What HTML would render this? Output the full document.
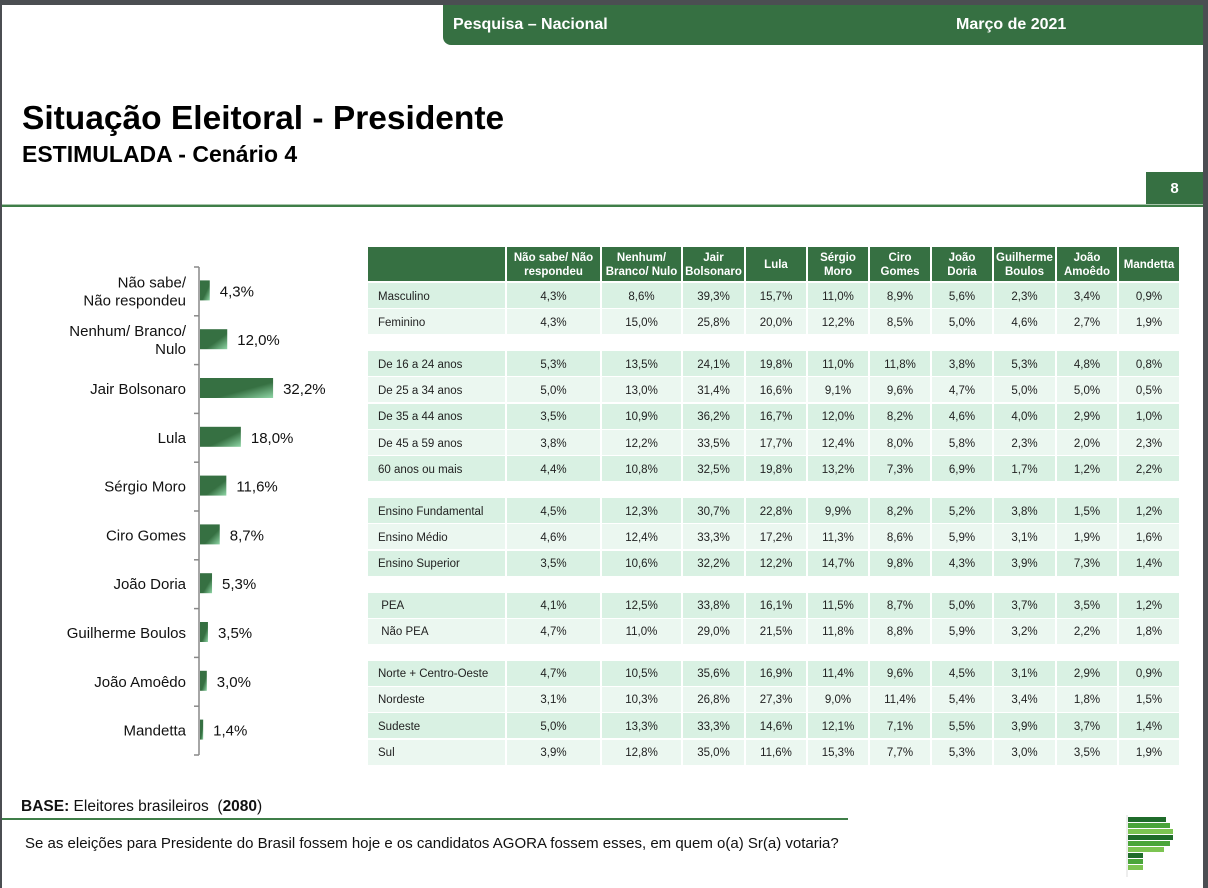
<!DOCTYPE html>
<html><head><meta charset="utf-8"><style>
body{margin:0;width:1208px;height:888px;overflow:hidden;background:#4b4e52;font-family:"Liberation Sans",sans-serif;}
#page{position:absolute;left:2px;top:5px;width:1201px;height:883px;background:#fff;overflow:hidden;}
.abs{position:absolute;}
#hdr{left:441px;top:0;width:760px;height:40px;background:#367042;border-bottom-left-radius:8px;color:#fff;font-weight:bold;font-size:16px;}
#tbl div{position:absolute;box-sizing:border-box;font-size:11.5px;color:#222;display:flex;align-items:center;justify-content:center;padding-top:2px;}
#tbl .h{background:#367042;color:#fff;font-weight:bold;text-align:center;line-height:14px;font-size:11.5px;}
</style></head><body>
<div id="page">
<div id="hdr" class="abs">
<span class="abs" style="left:10px;top:11px">Pesquisa – Nacional</span>
<span class="abs" style="left:513px;top:11px">Março de 2021</span>
</div>
<div class="abs" style="left:20px;top:95px;font-size:33.5px;font-weight:bold;color:#000">Situação Eleitoral - Presidente</div>
<div class="abs" style="left:20px;top:136px;font-size:23px;font-weight:bold;color:#000">ESTIMULADA - Cenário 4</div>
<div class="abs" style="left:1144px;top:167px;width:57px;height:33px;background:#367042;color:#fff;font-weight:bold;font-size:15px;text-align:center;line-height:33px">8</div>
<div class="abs" style="left:0;top:199px;width:1201px;height:1px;background:#a9c6ad"></div>
<div class="abs" style="left:0;top:200px;width:1201px;height:2px;background:#3f7e48"></div>
<svg id="chart" class="abs" style="left:0;top:0" width="370" height="780">
<defs><linearGradient id="g" x1="0" y1="0" x2="1" y2="1"><stop offset="0.6" stop-color="#367042"/><stop offset="1" stop-color="#8fd6a6"/></linearGradient></defs>
</svg>
<div id="tbl" class="abs" style="left:0;top:0"></div>
<div class="abs" style="left:19px;top:793px;font-size:15.5px;color:#111"><b>BASE:</b> Eleitores brasileiros &nbsp;(<b>2080</b>)</div>
<div class="abs" style="left:0;top:813px;width:846px;height:2px;background:#3f7e48"></div>
<div class="abs" style="left:23px;top:830px;font-size:15px;color:#111">Se as eleições para Presidente do Brasil fossem hoje e os candidatos AGORA fossem esses, em quem o(a) Sr(a) votaria?</div>
<svg class="abs" style="left:1120px;top:800px" width="60" height="80">
<line x1="5" y1="10" x2="5" y2="72" stroke="#ddd"/>
<rect x="6" y="12" width="38" height="5" fill="#1f6b2a"/><rect x="6" y="18" width="42" height="5" fill="#4aa53a"/>
<rect x="6" y="24" width="45" height="5" fill="#7cc452"/><rect x="6" y="30" width="45" height="5" fill="#1f6b2a"/>
<rect x="6" y="36" width="42" height="5" fill="#4aa53a"/><rect x="6" y="42" width="36" height="5" fill="#7cc452"/>
<rect x="6" y="48" width="15" height="5" fill="#1f6b2a"/><rect x="6" y="54" width="15" height="5" fill="#4aa53a"/><rect x="6" y="60" width="15" height="5" fill="#7cc452"/>
</svg>
</div>
<script>
const categories=["Não sabe/|Não respondeu","Nenhum/ Branco/|Nulo","Jair Bolsonaro","Lula","Sérgio Moro","Ciro Gomes","João Doria","Guilherme Boulos","João Amoêdo","Mandetta"];
const values=[4.3,12.0,32.2,18.0,11.6,8.7,5.3,3.5,3.0,1.4];
const NS="http://www.w3.org/2000/svg";
const svg=document.getElementById('chart');
const x0=197, pxPer=2.27, yTop=262, band=48.8, barH=20;
const xs=v=>pxPer*v, yc=i=>yTop+band*(i+0.5)-1;
function mk(t,a){const e=document.createElementNS(NS,t);for(const k in a)e.setAttribute(k,a[k]);svg.appendChild(e);return e;}
let ax=mk('line',{x1:x0,y1:yTop,x2:x0,y2:yTop+band*10,stroke:'#888','stroke-width':1.5});


for(let i=0;i<=10;i++){let t=mk('line',{x1:x0-5,x2:x0,y1:yTop+band*i,y2:yTop+band*i,stroke:'#888','stroke-width':1.5});

}
categories.forEach((c,i)=>{
 const r=mk('rect',{x:x0+1,y:yc(i)-barH/2,width:xs(values[i]),height:barH,fill:'url(#g)'});
 
 
 const v=mk('text',{x:x0+1+xs(values[i])+10,y:yc(i)+6,'font-size':15,fill:'#111'});
 v.textContent=values[i].toFixed(1).replace('.',',')+'%';
 
 
 const parts=c.split('|');
 parts.forEach((p,j)=>{const t=mk('text',{x:184,y:yc(i)+6+(j-(parts.length-1)/2)*18,'font-size':15,fill:'#111','text-anchor':'end'});
 t.textContent=p;
 
 });
});
const colHeads=["Não sabe/ Não<br>respondeu","Nenhum/<br>Branco/ Nulo","Jair<br>Bolsonaro","Lula","Sérgio<br>Moro","Ciro<br>Gomes","João<br>Doria","Guilherme<br>Boulos","João<br>Amoêdo","Mandetta"];
const rowLabels=["Masculino","Feminino","De 16 a 24 anos","De 25 a 34 anos","De 35 a 44 anos","De 45 a 59 anos","60 anos ou mais","Ensino Fundamental","Ensino Médio","Ensino Superior","&nbsp;PEA","&nbsp;Não PEA","Norte + Centro-Oeste","Nordeste","Sudeste","Sul"];
const rowValues=[
[4.3,8.6,39.3,15.7,11.0,8.9,5.6,2.3,3.4,0.9],[4.3,15.0,25.8,20.0,12.2,8.5,5.0,4.6,2.7,1.9],
[5.3,13.5,24.1,19.8,11.0,11.8,3.8,5.3,4.8,0.8],[5.0,13.0,31.4,16.6,9.1,9.6,4.7,5.0,5.0,0.5],
[3.5,10.9,36.2,16.7,12.0,8.2,4.6,4.0,2.9,1.0],[3.8,12.2,33.5,17.7,12.4,8.0,5.8,2.3,2.0,2.3],
[4.4,10.8,32.5,19.8,13.2,7.3,6.9,1.7,1.2,2.2],[4.5,12.3,30.7,22.8,9.9,8.2,5.2,3.8,1.5,1.2],
[4.6,12.4,33.3,17.2,11.3,8.6,5.9,3.1,1.9,1.6],[3.5,10.6,32.2,12.2,14.7,9.8,4.3,3.9,7.3,1.4],
[4.1,12.5,33.8,16.1,11.5,8.7,5.0,3.7,3.5,1.2],[4.7,11.0,29.0,21.5,11.8,8.8,5.9,3.2,2.2,1.8],
[4.7,10.5,35.6,16.9,11.4,9.6,4.5,3.1,2.9,0.9],[3.1,10.3,26.8,27.3,9.0,11.4,5.4,3.4,1.8,1.5],
[5.0,13.3,33.3,14.6,12.1,7.1,5.5,3.9,3.7,1.4],[3.9,12.8,35.0,11.6,15.3,7.7,5.3,3.0,3.5,1.9]];
const groups=[2,5,3,2,4];
const tbl=document.getElementById('tbl');
const cx=[366,505,600,681,744,806,868,930,992,1055,1117,1179];
function cell(x,y,w,h,html,cls,bg,name){const d=document.createElement('div');d.style.left=x+'px';d.style.top=y+'px';d.style.width=w+'px';d.style.height=h+'px';if(bg)d.style.background=bg;if(cls)d.className=cls;d.innerHTML=html;


tbl.appendChild(d);return d;}
cell(cx[0],242,cx[1]-cx[0]-2,34,'','h',null,'table-header-corner');
colHeads.forEach((h,j)=>cell(cx[j+1],242,cx[j+2]-cx[j+1]-2,34,h,'h',null,'column-header'));
let y=278,r=0;
groups.forEach(g=>{for(let k=0;k<g;k++){
 const bg=(k%2==0)?'#d9f1e3':'#ebf7f0';
 const l=cell(cx[0],y,cx[1]-cx[0]-2,25,rowLabels[r],'',bg,'row-label');l.style.justifyContent='flex-start';l.style.paddingLeft='10px';
 rowValues[r].forEach((v,j)=>cell(cx[j+1],y,cx[j+2]-cx[j+1]-2,25,v.toFixed(1).replace('.',',')+'%','',bg,'table-cell'));
 y+=26.3;r++;}
 y+=15.5;});
</script>
</body></html>
